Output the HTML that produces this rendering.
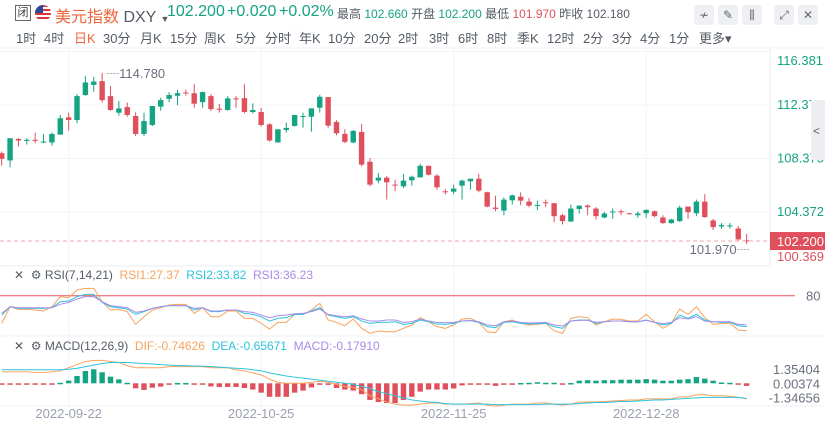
<!DOCTYPE html>
<html><head><meta charset="utf-8"><style>
body{margin:0;width:825px;height:425px;overflow:hidden;background:#fff;font-family:"Liberation Sans","Noto Sans CJK SC",sans-serif;position:relative}
.a{position:absolute;white-space:nowrap}
.per{position:absolute;top:28px;font-size:13px;color:#555b66}
.ib{position:absolute;top:5px;width:20px;height:20px;background:#eef0f4;border-radius:3px;color:#666;font-size:12px;text-align:center;line-height:20px}
.pr{position:absolute;top:3px;font-size:16px;color:#14a383;white-space:nowrap}
svg{position:absolute;left:0;top:0}
</style></head><body>
<div class="a" style="left:15px;top:5px;width:14px;height:14px;border:1px solid #666;font-size:11px;line-height:14px;text-align:center;color:#333">闭</div>
<div class="a" style="left:35px;top:5px;width:16px;height:16px;border-radius:50%;background:repeating-linear-gradient(#d9363e 0 2px,#fff 2px 4px);overflow:hidden"><div style="width:8px;height:8px;background:#2b4a9a"></div></div>
<div class="a" style="left:55px;top:3px;font-size:16px;color:#f0643c">美元指数 <span style="color:#555b66">DXY</span> <span style="color:#555b66;font-size:9px">▼</span></div>
<div class="pr" style="left:167px">102.200</div>
<div class="pr" style="left:227px">+0.020</div>
<div class="pr" style="left:279px">+0.02%</div>
<div class="a" style="left:337px;top:5px;font-size:12px;color:#555b66">最高 <span style="color:#14a383">102.660</span> 开盘 <span style="color:#14a383">102.200</span> 最低 <span style="color:#e0505c">101.970</span> 昨收 102.180</div>
<div class="ib" style="left:694px">≁</div>
<div class="ib" style="left:718px">✎</div>
<div class="ib" style="left:742px">⫼</div>
<div class="ib" style="left:774px">⤢</div>
<div class="ib" style="left:798px">✕</div>
<div id="periods"></div>
<svg id="c" width="825" height="425"></svg>
<script>
const opens=[108.77,108.23,109.84,109.69,109.77,109.57,109.57,110.16,111.45,111.25,113.12,113.88,114.16,113.04,111.80,112.22,111.55,110.21,110.88,112.25,112.84,113.07,113.31,113.26,112.59,113.04,112.10,112.00,112.87,112.89,111.85,111.85,110.93,109.57,110.51,110.81,111.50,111.50,112.17,112.97,111.11,110.21,109.57,110.36,108.13,106.72,106.94,106.42,106.29,106.74,106.96,107.83,107.09,105.92,105.89,106.34,106.67,106.86,105.85,104.70,104.48,105.25,105.52,105.15,104.85,105.10,105.03,104.13,103.66,104.60,104.85,104.63,103.96,104.36,104.43,104.28,104.13,104.28,104.43,103.96,103.54,103.69,104.78,104.28,105.15,103.74,103.29,103.32,103.14,102.25];
const highs=[108.90,109.89,109.89,109.91,110.31,110.21,110.31,111.63,111.80,113.19,114.53,114.48,114.78,113.79,112.67,112.55,111.83,111.80,112.30,112.92,113.34,113.49,113.54,113.93,113.39,113.19,112.45,113.04,113.04,113.93,112.50,112.17,111.01,110.56,111.06,111.63,111.80,112.12,113.14,112.97,111.23,110.56,110.51,110.96,108.40,107.29,107.06,106.79,107.23,107.09,107.98,107.83,107.21,106.09,106.42,106.79,106.86,107.23,105.89,105.59,105.47,105.67,105.84,105.42,105.22,105.30,105.03,104.23,104.93,104.85,104.95,104.73,104.38,104.63,104.56,104.31,104.41,104.56,104.48,104.13,103.86,104.85,104.78,105.30,105.70,103.86,103.54,103.54,103.32,102.74];
const lows=[107.83,107.71,109.27,109.42,109.52,109.52,109.34,110.16,110.46,111.01,113.07,113.36,112.55,111.95,111.58,111.50,110.06,110.06,110.81,111.95,112.59,112.37,113.07,112.17,112.17,111.92,111.80,111.95,112.17,111.75,111.75,110.76,109.64,109.57,110.31,110.76,110.68,110.38,111.80,110.68,110.11,109.52,109.52,107.78,106.29,106.52,105.30,105.92,106.15,106.34,106.96,107.11,106.04,105.67,105.72,105.30,106.04,105.85,104.73,104.43,104.13,104.93,104.88,104.73,104.50,104.73,103.61,103.44,103.64,104.26,104.13,103.81,103.91,103.86,104.13,104.18,103.94,103.94,103.98,103.49,103.49,103.64,103.86,104.06,103.94,103.02,103.12,103.14,102.20,101.97];
const closes=[108.35,109.89,109.72,109.77,109.69,109.64,110.21,111.38,111.25,113.04,114.06,114.13,112.74,112.00,112.12,111.63,110.21,111.18,112.30,112.74,113.12,113.26,113.24,112.47,113.34,112.07,112.02,112.87,112.82,111.85,112.00,110.88,109.72,110.56,110.66,111.63,111.55,112.12,112.99,110.83,110.26,109.62,110.44,107.91,106.42,106.94,106.59,106.37,106.72,107.01,107.83,107.16,106.22,105.85,106.12,106.72,106.86,105.97,104.78,104.60,105.30,105.62,105.22,104.85,104.90,105.03,104.06,103.69,104.63,104.85,104.73,104.06,104.26,104.41,104.36,104.23,104.26,104.53,104.06,103.54,103.81,104.70,104.36,105.15,103.99,103.24,103.39,103.37,102.32,102.20];
const rsi1=[43.1,65.3,61.8,61.8,60.9,59.6,65.3,78.7,77.3,87.6,89.8,89.8,72.0,60.9,61.8,58.7,41.8,52.0,60.9,64.0,67.6,68.5,68.5,56.5,64.0,52.0,52.0,59.6,59.6,49.8,49.8,43.1,35.6,44.5,44.5,55.1,55.1,60.9,69.8,47.6,44.5,40.0,48.9,36.5,29.8,32.9,32.0,32.0,36.5,40.9,50.7,45.3,38.7,36.5,40.9,48.9,49.8,44.5,32.0,30.7,45.3,47.6,43.1,40.9,41.8,43.1,33.3,29.8,49.8,52.0,50.7,40.9,45.3,48.9,48.5,46.2,46.2,55.1,45.3,36.5,43.1,62.2,55.1,65.3,50.7,41.8,43.1,43.1,34.2,33.3];
const rsi2=[54.2,65.3,63.1,63.1,63.1,63.1,64.0,72.0,72.9,78.7,81.8,81.8,71.1,65.3,64.0,62.2,55.1,58.7,63.1,65.3,66.7,66.7,66.7,60.9,64.0,58.7,58.7,60.9,60.9,56.5,55.1,52.0,46.2,49.8,50.7,55.1,55.1,59.6,64.0,54.2,52.0,49.8,52.0,46.2,43.1,44.5,44.5,45.3,41.8,43.1,47.6,45.3,42.2,41.8,43.1,46.2,46.7,44.5,38.7,37.3,44.5,45.3,43.1,42.2,42.7,43.1,38.7,36.5,46.2,47.6,47.6,43.1,45.3,46.2,46.2,45.3,45.3,47.6,44.5,40.9,43.1,54.2,49.8,55.1,47.6,45.3,44.5,44.5,40.0,38.7];
const rsi3=[56.5,65.3,64.0,64.0,64.0,64.0,64.0,68.5,71.1,75.6,78.7,78.7,72.0,66.7,65.3,64.0,57.8,59.6,63.1,65.3,66.7,66.7,66.7,63.1,64.0,59.6,59.6,60.9,60.9,58.7,57.8,54.2,50.7,53.3,54.2,56.0,56.5,58.7,62.2,55.1,53.3,52.0,53.3,48.9,46.2,46.2,47.6,47.6,44.5,45.3,48.9,46.2,44.5,44.0,44.5,46.2,47.1,45.3,40.9,40.0,45.3,46.2,44.5,43.6,44.0,44.5,40.9,39.6,46.2,47.1,47.1,44.5,45.3,46.2,46.2,45.3,45.3,47.1,44.5,42.7,44.5,50.7,48.9,52.0,46.2,45.3,45.3,45.3,41.8,40.9];
const dif=[1.1,1.1,1.1,1.1,1.05,1.05,1.1,1.2,1.5,1.8,2.1,2.2,2.2,2.1,2.0,1.7,1.5,1.5,1.5,1.5,1.6,1.6,1.6,1.6,1.6,1.5,1.5,1.5,1.3,1.2,1.0,0.8,0.4,0.1,0,0,0,0.1,0.2,0.1,-0.1,-0.3,-0.4,-0.6,-1.2,-1.5,-1.8,-2.0,-2.1,-2.1,-2.0,-1.9,-1.9,-2.0,-2.0,-2.0,-1.95,-1.9,-2.1,-2.2,-2.1,-2.0,-2.0,-2.0,-1.9,-1.9,-2.0,-2.1,-2.0,-1.8,-1.8,-1.8,-1.75,-1.7,-1.65,-1.6,-1.6,-1.5,-1.5,-1.5,-1.5,-1.3,-1.3,-1.1,-1.1,-1.2,-1.2,-1.25,-1.35,-1.5];
const dea=[1.3,1.3,1.3,1.3,1.3,1.3,1.3,1.3,1.35,1.45,1.6,1.75,1.9,2.0,2.0,2.0,1.95,1.9,1.85,1.8,1.75,1.7,1.7,1.65,1.65,1.6,1.55,1.5,1.45,1.4,1.3,1.2,1.0,0.85,0.7,0.6,0.5,0.4,0.3,0.2,0.1,0.0,-0.1,-0.3,-0.5,-0.8,-1.0,-1.2,-1.4,-1.6,-1.7,-1.8,-1.85,-1.95,-2.0,-2.0,-2.0,-2.0,-2.0,-2.05,-2.05,-2.05,-2.05,-2.05,-2.05,-2.0,-2.0,-2.0,-2.0,-1.95,-1.9,-1.85,-1.85,-1.8,-1.75,-1.75,-1.7,-1.65,-1.6,-1.6,-1.55,-1.5,-1.45,-1.4,-1.35,-1.35,-1.35,-1.35,-1.35,-1.45];
const hist=[-0.05,-0.05,-0.05,-0.05,-0.05,-0.05,-0.05,0.05,0.26,0.7,1.18,1.35,1.06,0.64,0.38,0.05,-0.48,-0.64,-0.42,-0.32,-0.1,0.03,0.03,-0.03,-0.03,-0.3,-0.35,-0.35,-0.35,-0.45,-0.6,-0.9,-1.3,-1.3,-1.3,-0.9,-0.7,-0.4,-0.05,-0.15,-0.45,-0.6,-0.7,-1.05,-1.6,-1.8,-1.9,-1.9,-1.6,-1.3,-0.8,-0.6,-0.6,-0.6,-0.5,-0.2,-0.05,-0.05,-0.1,-0.25,-0.05,-0.03,0.03,0.05,0.1,0.05,0.05,-0.1,0.03,0.25,0.3,0.25,0.3,0.3,0.35,0.35,0.35,0.4,0.35,0.25,0.25,0.35,0.4,0.6,0.45,0.25,0.08,0.05,-0.1,-0.25];
const priceTicks=[116.381,112.378,108.375,104.372,100.369];
const dateLabels=["2022-09-22","2022-10-25","2022-11-25","2022-12-28"];
const dateIdx=[8,31,54,77];
const macdTicks=["1.35404","0.00374","-1.34656"];
const macdTickVals=[1.35404,0.00374,-1.34656];
const periods=["1时","4时","日K","30分","月K","15分","周K","5分","分时","年K","10分","20分","2时","3时","6时","8时","季K","12时","2分","3分","4分","1分","更多▾"];
const periodX=[16,44,74,103,140,170,204,236,265,299,328,364,398,429,458,487,517,547,583,612,640,669,699];

const G='#14a383',R='#e0505c';
const xs=i=>1.7+8.37*i;
const yp=v=>212-(v-104.372)*13.37;
const yr=v=>295.7+(80-v)*0.75;
const ym=v=>383.3-v*10.4;
const svg=document.getElementById('c');
const NS='http://www.w3.org/2000/svg';
function mk(t,a,p){const e=document.createElementNS(NS,t);for(const k in a)e.setAttribute(k,a[k]);(p||svg).appendChild(e);return e;}

const pd=document.getElementById('periods');
periods.forEach((p,i)=>{const d=document.createElement('div');d.className='per';d.style.left=periodX[i]+'px';d.textContent=p;if(i===2)d.style.color='#f0643c';


pd.appendChild(d);});

[[0,48,825,48],[0,266,770,266],[0,336,825,336],[0,406,825,406]].forEach(l=>{const e=mk('line',{x1:l[0],y1:l[1],x2:l[2],y2:l[3],stroke:'#eef0f3'});

});
const ax=mk('line',{x1:770,y1:48,x2:770,y2:266,stroke:'#e6e8ec'});


dateIdx.forEach(i=>{const e=mk('line',{x1:xs(i),y1:48,x2:xs(i),y2:406,stroke:'#f2f3f6'});

});
priceTicks.forEach((v,k)=>{const y=yp(v);
const g=mk('line',{x1:0,y1:y,x2:770,y2:y,stroke:'#f2f3f6'});


const ty=Math.min(Math.max(y+4,65),261);
const t=mk('text',{x:777,y:ty,'font-size':13,fill:k===4?R:G});t.textContent=v.toFixed(3);

});

opens.forEach((o,i)=>{const c=closes[i],x=xs(i),col=c>=o?G:R;
const g=mk('g',{});


mk('line',{x1:x,y1:yp(highs[i]),x2:x,y2:yp(lows[i]),stroke:col,'stroke-width':1},g);
const t=Math.min(yp(o),yp(c)),h=Math.max(Math.abs(yp(o)-yp(c)),1);
mk('rect',{x:x-2.7,y:t,width:5.4,height:h,fill:col},g);});

let hi=highs.indexOf(Math.max(...highs)),lo=lows.indexOf(Math.min(...lows));
const ht=mk('text',{x:xs(hi)+4,y:yp(highs[hi])+5,'font-size':13,fill:'#6b7080'});ht.textContent='┈'+highs[hi].toFixed(3);


const lt=mk('text',{x:xs(lo)-57,y:yp(lows[lo])+10,'font-size':13,fill:'#6b7080'});lt.textContent=lows[lo].toFixed(3)+'┈';


const last=closes[closes.length-1];
const dl=mk('line',{x1:0,y1:yp(last),x2:770,y2:yp(last),stroke:'#f2a6ac','stroke-dasharray':'4,3'});


const lb=mk('rect',{x:770,y:yp(last)-9,width:55,height:18,fill:R});


const lbt=mk('text',{x:777,y:yp(last)+5,'font-size':13,fill:'#fff'});lbt.textContent=last.toFixed(3);


const cp=mk('rect',{x:811,y:100,width:14,height:60,fill:'#eceef2'});


const cpt=mk('text',{x:813,y:135,'font-size':12,fill:'#666'});cpt.textContent='<';

const l80=mk('line',{x1:0,y1:yr(80),x2:795,y2:yr(80),stroke:'#e8505c'});


const t80=mk('text',{x:806,y:yr(80)+5,'font-size':13,fill:'#6b7080'});t80.textContent='80';


[[rsi1,'#f7a35c','rsi1-line'],[rsi2,'#2cc4dc','rsi2-line'],[rsi3,'#a98be8','rsi3-line']].forEach(s=>{
const p=mk('polyline',{points:s[0].map((v,i)=>xs(i)+','+yr(v)).join(' '),fill:'none',stroke:s[1],'stroke-width':1});

});

hist.forEach((v,i)=>{const y=ym(v),z=ym(0);const b=mk('rect',{x:xs(i)-2.7,y:Math.min(y,z),width:5.4,height:Math.max(Math.abs(y-z),1.5),fill:v>=0?G:R});

});
[[dif,'#f7a35c','dif-line'],[dea,'#2cc4dc','dea-line']].forEach(s=>{
const p=mk('polyline',{points:s[0].map((v,i)=>xs(i)+','+ym(v)).join(' '),fill:'none',stroke:s[1],'stroke-width':1});

});
macdTicks.forEach((t,k)=>{const e=mk('text',{x:820,y:ym(macdTickVals[k])+5,'font-size':13,fill:'#6b7080','text-anchor':'end'});e.textContent=t;

});
dateLabels.forEach((d,k)=>{const e=mk('text',{x:xs(dateIdx[k]),y:418,'font-size':13,fill:'#9aa0b0','text-anchor':'middle'});e.textContent=d;

});
</script>
<div class="a" style="left:14px;top:268px;font-size:12px;color:#555b66"><span>✕</span> &nbsp;<span>⚙</span> RSI(7,14,21) &nbsp;<span style="color:#f7a35c">RSI1:27.37</span> &nbsp;<span style="color:#2cc4dc">RSI2:33.82</span> &nbsp;<span style="color:#a98be8">RSI3:36.23</span></div>
<div class="a" style="left:14px;top:339px;font-size:12px;color:#555b66"><span>✕</span> &nbsp;<span>⚙</span> MACD(12,26,9) &nbsp;<span style="color:#f7a35c">DIF:-0.74626</span> &nbsp;<span style="color:#2cc4dc">DEA:-0.65671</span> &nbsp;<span style="color:#a98be8">MACD:-0.17910</span></div>
</body></html>
